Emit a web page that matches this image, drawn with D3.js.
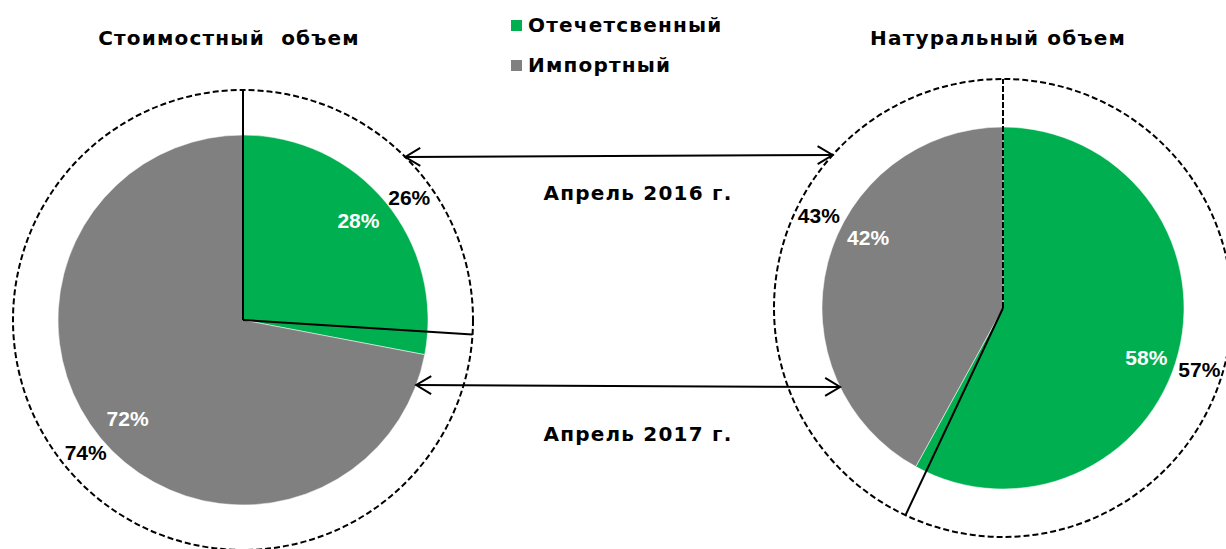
<!DOCTYPE html>
<html>
<head>
<meta charset="utf-8">
<script src="https://cdn.jsdelivr.net/npm/d3@7"></script>
<style>
  body { margin: 0; background: #fff; }
</style>
</head>
<body>
<svg id="chart" width="1226" height="549"></svg>
<script>
// Data
const categories = ["Отечетсвенный", "Импортный"];
const chartTitles = ["Стоимостный  объем", "Натуральный объем"];
const periods = ["Апрель 2016 г.", "Апрель 2017 г."];
const costApr2016 = [26, 74];
const costApr2017 = [28, 72];
const volApr2016 = [57, 43];
const volApr2017 = [58, 42];

let svg = d3.select("svg#chart");

const green = "#00b050";
const grey = "#808080";
const color = d3.scaleOrdinal().domain(categories).range([green, grey]);

const titleFont = "'DejaVu Sans', Verdana, sans-serif";
const numFont = "'Liberation Sans', Arial, sans-serif";
const titleSize = "20px";
const titleSpacing = "1.2px";

// layout of the two pies
let pies = [
  { title: chartTitles[0], titleX: 229, cx: 243, cy: 320, rIn: 185, rOut: 230,
    inner: costApr2017, outer: costApr2016, topDashed: false,
    nudgeIn: [-1, -1], nudgeOut: [7, 3] },
  { title: chartTitles[1], titleX: 998, cx: 1003, cy: 308, rIn: 181, rOut: 229,
    inner: volApr2017, outer: volApr2016, topDashed: true,
    nudgeIn: [5, 13], nudgeOut: [5, 14] }
];

const pie = d3.pie().sort(null).value(d => d);
const toRad = Math.PI / 180;

function polar(p, ang, r) {
  return [p.cx + r * Math.sin(ang), p.cy - r * Math.cos(ang)];
}

pies.forEach(p => {
  let g = svg.append("g");
  let arcIn = d3.arc().innerRadius(0).outerRadius(p.rIn);

  // inner pie (2017)
  let inArcs = pie(p.inner);
  g.selectAll("path.slice")
    .data(inArcs)
    .enter()
    .append("path")
      .attr("class", "slice")
      .attr("transform", "translate(" + p.cx + "," + p.cy + ")")
      .attr("d", arcIn)
      .attr("fill", (d, i) => color(categories[i]))
      .attr("stroke", "#fff")
      .attr("stroke-width", 0.5);

  // boundaries of the outer pie (2016)
  let outArcs = pie(p.outer);
  outArcs.forEach((d, i) => {
    let end = polar(p, d.startAngle, p.rOut);
    g.append("line")
      .attr("x1", p.cx).attr("y1", p.cy)
      .attr("x2", end[0]).attr("y2", end[1])
      .attr("stroke", "#000")
      .attr("stroke-width", 2)
      .attr("stroke-dasharray", (i == 0 && p.topDashed) ? "6,2" : null);
  });

  // dashed outer ring
  g.append("circle")
    .attr("cx", p.cx).attr("cy", p.cy)
    .attr("r", p.rOut)
    .attr("fill", "none")
    .attr("stroke", "#000")
    .attr("stroke-width", 2)
    .attr("stroke-dasharray", "6,3");

  // labels
  inArcs.forEach((d, i) => {
    let mid = (d.startAngle + d.endAngle) / 2 + p.nudgeIn[i] * toRad;
    let pos = polar(p, mid, 152);
    g.append("text")
      .attr("x", pos[0]).attr("y", pos[1] + 7)
      .attr("text-anchor", "middle")
      .attr("font-family", numFont)
      .attr("font-weight", "bold")
      .attr("font-size", "21px")
      .attr("fill", "#fff")
      .text(d.data + "%");
  });
  outArcs.forEach((d, i) => {
    let mid = (d.startAngle + d.endAngle) / 2 + p.nudgeOut[i] * toRad;
    let pos = polar(p, mid, 206);
    g.append("text")
      .attr("x", pos[0]).attr("y", pos[1] + 7)
      .attr("text-anchor", "middle")
      .attr("font-family", numFont)
      .attr("font-weight", "bold")
      .attr("font-size", "21px")
      .attr("fill", "#000")
      .text(d.data + "%");
  });

  // title
  svg.append("text")
    .attr("x", p.titleX).attr("y", 45)
    .attr("text-anchor", "middle")
    .attr("font-family", titleFont)
    .attr("font-weight", "bold")
    .attr("font-size", titleSize)
    .attr("letter-spacing", titleSpacing)
    .attr("fill", "#000")
    .style("white-space", "pre")
    .text(p.title);
});

// arrows between the pies
svg.append("defs").append("marker")
  .attr("id", "chev")
  .attr("viewBox", "-16 -10 18 20")
  .attr("refX", 0).attr("refY", 0)
  .attr("markerWidth", 18).attr("markerHeight", 20)
  .attr("markerUnits", "userSpaceOnUse")
  .attr("orient", "auto-start-reverse")
  .append("path")
    .attr("d", "M-15,-9 L0,0 L-15,9")
    .attr("fill", "none")
    .attr("stroke", "#000")
    .attr("stroke-width", 2);

function edgeX(p, y, r, side) {
  let dy = y - p.cy;
  return p.cx + side * Math.sqrt(r * r - dy * dy);
}

// 2016 arrow joins the outer rings, 2017 arrow joins the inner pies
let arrows = [
  { y1: 157, y2: 155, key: "rOut", label: periods[0], ly: 200 },
  { y1: 385, y2: 387, key: "rIn", label: periods[1], ly: 441 }
];
arrows.forEach(a => {
  let x1 = edgeX(pies[0], a.y1, pies[0][a.key], 1);
  let x2 = edgeX(pies[1], a.y2, pies[1][a.key], -1);
  svg.append("line")
    .attr("x1", x1).attr("y1", a.y1)
    .attr("x2", x2).attr("y2", a.y2)
    .attr("stroke", "#000")
    .attr("stroke-width", 2)
    .attr("marker-start", "url(#chev)")
    .attr("marker-end", "url(#chev)");
  svg.append("text")
    .attr("x", 638).attr("y", a.ly)
    .attr("text-anchor", "middle")
    .attr("font-family", titleFont)
    .attr("font-weight", "bold")
    .attr("font-size", titleSize)
    .attr("letter-spacing", titleSpacing)
    .attr("fill", "#000")
    .text(a.label);
});

// legend
let legend = svg.append("g").attr("transform", "translate(511,20)");
categories.forEach((c, i) => {
  legend.append("rect")
    .attr("x", 0).attr("y", i * 40)
    .attr("width", 11).attr("height", 11)
    .attr("fill", color(c));
  legend.append("text")
    .attr("x", 17).attr("y", i * 40 + 12)
    .attr("font-family", titleFont)
    .attr("font-weight", "bold")
    .attr("font-size", titleSize)
    .attr("letter-spacing", titleSpacing)
    .attr("fill", "#000")
    .text(c);
});
</script>
</body>
</html>
